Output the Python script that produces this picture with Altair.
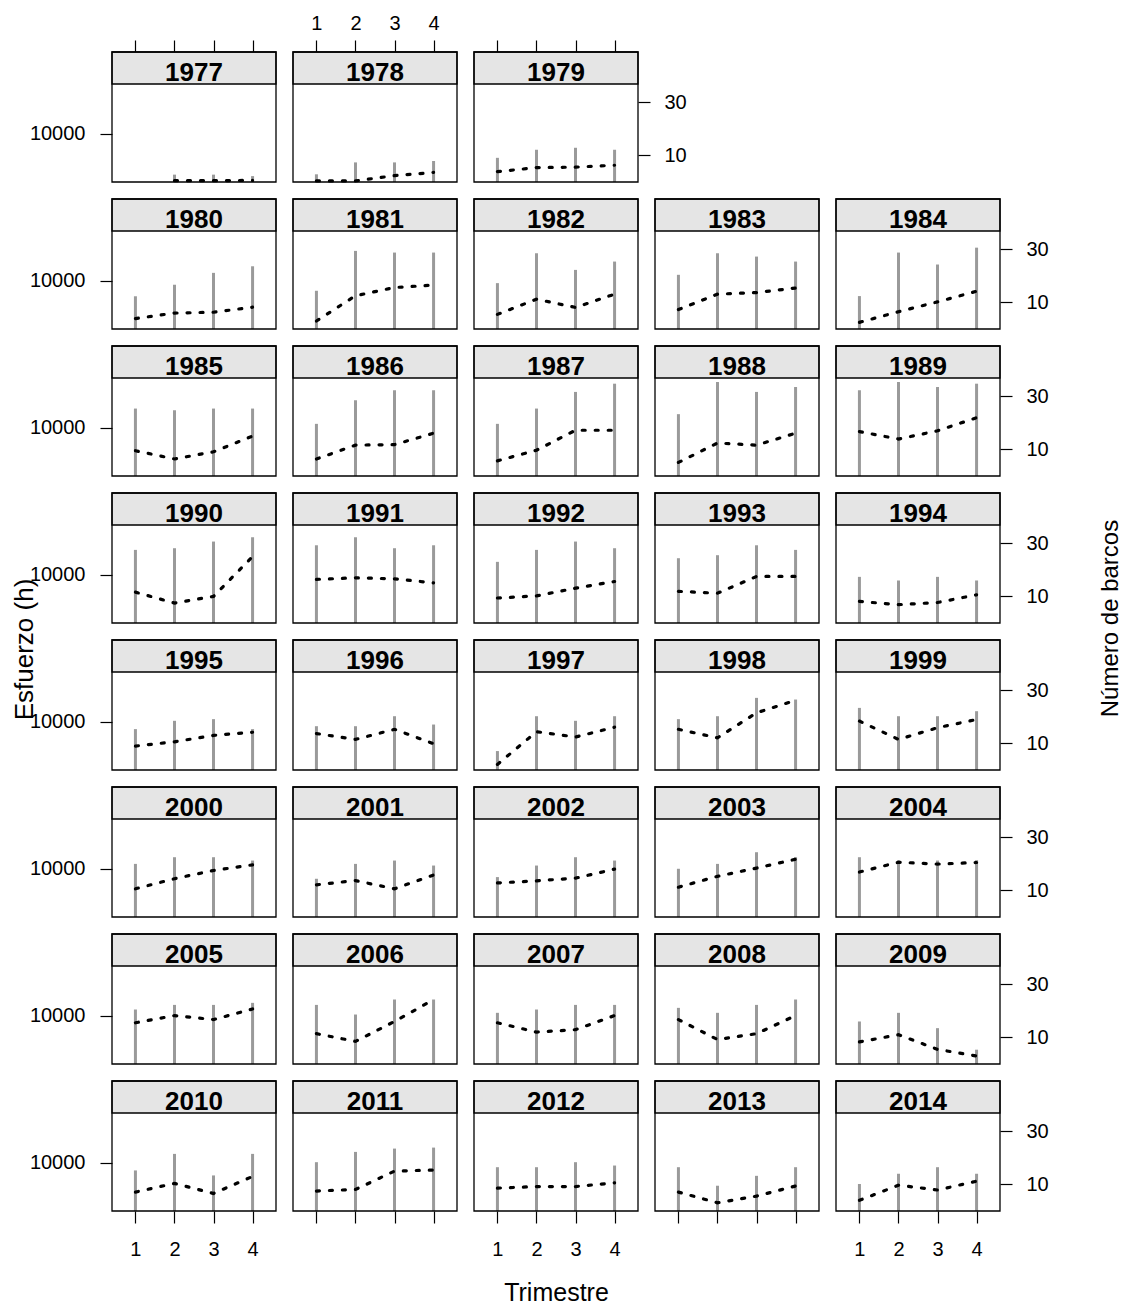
import altair as alt
import pandas as pd

years = list(range(1977, 2015))

# Esfuerzo (h) per trimestre (grey bars, left log axis)
esf_t1 = [None, 3870, 5700, 6970, 7930, 9490, 11540, 7000, 15750, 11000,
          11000, 13810, 24220, 18000, 20060, 13590, 14800, 9550, 8440, 9040,
          5040, 10670, 13900, 11250, 7930, 8250, 10030, 13160, 11620, 12950,
          10750, 12080, 8770, 8380, 10170, 9040, 9040, 6090]
esf_t2 = [3840, 5120, 6890, 9140, 20240, 19150, 19150, 19460, 15140, 19150,
          15750, 29390, 29390, 18720, 24220, 18000, 15890, 8770, 10260, 9040,
          11430, 11430, 11430, 13160, 11250, 10820, 11250, 12170, 12950, 10330,
          11620, 10750, 10750, 12360, 12950, 9040, 5850, 7750]
esf_t3 = [3840, 5120, 7220, 12080, 19460, 12950, 17710, 14700, 15750, 24220,
          23290, 23290, 26130, 21890, 18720, 21890, 20060, 9550, 10670, 11430,
          10260, 17590, 11430, 13160, 12170, 13160, 14800, 12170, 12950, 14700,
          12950, 12950, 7500, 7450, 14000, 10170, 7380, 9040]
esf_t4 = [3710, 5290, 6890, 14100, 19460, 15750, 15750, 21840, 15750, 24220,
          28260, 26130, 28260, 24220, 20060, 18720, 18000, 8770, 8440, 9400,
          11430, 16910, 12860, 12170, 10820, 12170, 13160, 12280, 13590, 14700,
          12950, 14700, 4520, 12360, 14330, 9400, 9040, 7750]

# Numero de barcos per trimestre (dashed line, right axis)
bar_t1 = [None, 0.4, 3.9, 3.9, 3.0, 5.5, 7.3, 2.5, 9.5, 6.4,
          5.7, 5.1, 16.7, 11.6, 16.4, 9.4, 11.9, 8.1, 9.0, 13.7,
          2.1, 15.3, 18.4, 10.6, 12.1, 12.8, 11.2, 16.9, 15.5, 11.4,
          15.5, 16.7, 8.3, 7.1, 7.5, 8.6, 7.1, 4.0]
bar_t2 = [0.5, 0.4, 5.4, 6.0, 12.5, 11.2, 13.1, 6.5, 6.4, 11.6,
          9.7, 12.4, 13.9, 7.5, 17.0, 10.2, 11.2, 6.9, 10.6, 11.5,
          14.4, 12.1, 11.5, 14.4, 13.7, 13.6, 15.3, 20.6, 18.2, 8.5,
          12.0, 9.2, 11.0, 10.4, 8.1, 9.2, 3.1, 9.7]
bar_t3 = [0.5, 2.4, 5.6, 6.3, 15.6, 8.1, 13.7, 10.2, 9.1, 11.8,
          17.2, 11.6, 17.0, 10.0, 16.6, 13.1, 17.5, 7.7, 13.0, 15.3,
          12.4, 21.5, 15.9, 17.5, 10.6, 14.6, 18.4, 19.9, 16.7, 16.0,
          12.9, 11.4, 5.5, 6.6, 15.0, 9.2, 5.6, 7.9]
bar_t4 = [0.6, 3.6, 6.3, 8.2, 16.5, 13.1, 15.4, 14.2, 15.0, 16.1,
          17.2, 16.1, 21.9, 25.0, 15.1, 15.6, 17.5, 10.6, 14.2, 9.9,
          16.1, 26.2, 19.0, 19.6, 15.8, 18.0, 21.7, 20.5, 20.7, 24.2,
          18.2, 18.2, 3.0, 13.0, 15.4, 10.6, 9.4, 11.2]

trimestres = [1, 2, 3, 4]
esf_ticks = [10000]
bar_ticks = [10, 30]

W, H, STRIP = 164, 130, 32
FONT = "Liberation Sans"
GREY = "#9a9a9a"
BORDER = 1.3

xscale = alt.Scale(domain=[0.4, 4.6], nice=False, zero=False)
esf_scale = alt.Scale(type="log", domain=[3230, 32300], range=[H, STRIP], nice=False)
bar_scale = alt.Scale(domain=[0, 36.85], range=[H, STRIP], nice=False, zero=False)

one = pd.DataFrame({"k": [0]})


def panel(i, row, col, last_col):
    yr = years[i]
    esf = [esf_t1[i], esf_t2[i], esf_t3[i], esf_t4[i]]
    bar = [bar_t1[i], bar_t2[i], bar_t3[i], bar_t4[i]]
    df_e = pd.DataFrame({"t": [t for t, v in zip(trimestres, esf) if v is not None],
                         "esf": [v for v in esf if v is not None]})
    df_b = pd.DataFrame({"t": [t for t, v in zip(trimestres, bar) if v is not None],
                         "barcos": [v for v in bar if v is not None]})

    # x axis
    if row == 0:
        x_enc = alt.X("t:Q", scale=xscale, title=None,
                      axis=alt.Axis(orient="top", values=trimestres, labels=(col == 1),
                                    labelPadding=7, format="d"))
    elif row == 7:
        kw = dict(orient="bottom", values=trimestres, labels=(col % 2 == 0),
                  labelPadding=16, format="d")
        if col == 2:
            x_enc = alt.X("t:Q", scale=xscale, title="Trimestre",
                          axis=alt.Axis(titleY=89, titleBaseline="alphabetic",
                                        titleFontSize=25, **kw))
        else:
            x_enc = alt.X("t:Q", scale=xscale, title=None, axis=alt.Axis(**kw))
    else:
        x_enc = alt.X("t:Q", scale=xscale, axis=None)

    # left axis
    if col == 0:
        if row == 4:
            y_e = alt.Y("esf:Q", scale=esf_scale, title="Esfuerzo (h)",
                        axis=alt.Axis(orient="left", values=esf_ticks, labelPadding=15,
                                      format="d", titleAngle=270, titleX=-80,
                                      titleY=9, titleBaseline="alphabetic",
                                      titleAlign="center", titleFontSize=26))
        else:
            y_e = alt.Y("esf:Q", scale=esf_scale, title=None,
                        axis=alt.Axis(orient="left", values=esf_ticks, labelPadding=15,
                                      format="d"))
    else:
        y_e = alt.Y("esf:Q", scale=esf_scale, axis=None)

    # right axis
    if col == last_col:
        if row == 3:
            y_b = alt.Y("barcos:Q", scale=bar_scale, title="Número de barcos",
                        axis=alt.Axis(orient="right", values=bar_ticks, labelPadding=14,
                                      titleAngle=270, titleX=117, titleY=125,
                                      titleBaseline="alphabetic", titleAlign="center"))
        else:
            y_b = alt.Y("barcos:Q", scale=bar_scale, title=None,
                        axis=alt.Axis(orient="right", values=bar_ticks, labelPadding=14))
    else:
        y_b = alt.Y("barcos:Q", scale=bar_scale, axis=None)

    strip = alt.Chart(one).mark_rect(fill="#e5e5e5", stroke="black", strokeWidth=BORDER).encode(
        x=alt.value(0), x2=alt.value(W), y=alt.value(0), y2=alt.value(STRIP))
    label = alt.Chart(one).mark_text(font=FONT, fontSize=26, fontWeight="bold",
                                     baseline="alphabetic", align="center",
                                     color="black").encode(
        x=alt.value(W / 2), y=alt.value(28.7), text=alt.value(str(yr)))
    border = alt.Chart(one).mark_rect(fillOpacity=0, stroke="black", strokeWidth=BORDER).encode(
        x=alt.value(0), x2=alt.value(W), y=alt.value(0), y2=alt.value(H))
    bars = alt.Chart(df_e).mark_rule(color=GREY, strokeWidth=3).encode(
        x=x_enc, y=y_e, y2=alt.value(H))
    line = alt.Chart(df_b).mark_line(color="black", strokeWidth=3.2, strokeDash=[3, 10],
                                     strokeCap="round").encode(
        x=x_enc, y=y_b)

    return alt.layer(bars, line, strip, label, border).resolve_scale(y="independent").properties(
        width=W, height=H)


def empty():
    return alt.Chart(one).mark_point(opacity=0).encode(
        x=alt.value(0), y=alt.value(0)).properties(width=W, height=H)


cells = []
for c in range(3):
    cells.append(panel(c, 0, c, 2))
cells.append(empty())
cells.append(empty())
for r in range(1, 8):
    for c in range(5):
        i = 3 + (r - 1) * 5 + c
        cells.append(panel(i, r, c, 4))

chart = alt.concat(*cells, columns=5, spacing=17, bounds="flush").properties(
    padding={"left": 2, "top": 5, "right": 0, "bottom": 0}
).configure_view(
    strokeWidth=0
).configure_axis(
    labelFont=FONT, labelFontSize=20, labelColor="black",
    titleFont=FONT, titleFontSize=24, titleColor="black", titleFontWeight="normal",
    tickColor="black", tickSize=12, tickWidth=1.2, domain=False, grid=False
)

chart.save("out.html", embed_options={"renderer": "svg", "actions": False})
